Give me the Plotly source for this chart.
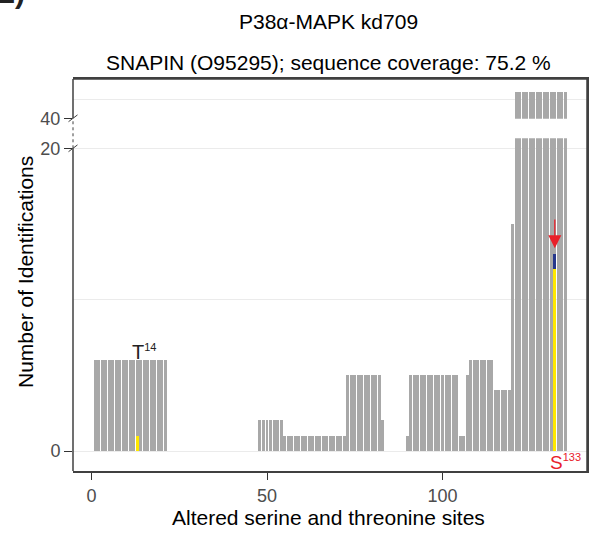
import plotly.graph_objects as go

# ---- data ----
# covered residue blocks (0-based position) and number of identifications
block_start = [1, 48, 55, 73, 83, 90, 91, 105, 107, 108, 115, 120, 121]
block_end = [21, 54, 72, 82, 83, 90, 104, 106, 107, 114, 119, 120, 135]
block_ids = [6, 2, 1, 5, 2, 1, 5, 1, 5, 6, 4, 15, 54]

# altered sites
site_labels = ["T14", "S133"]
site_pos = [13, 132]
site_localized = [1, 12]
site_ambiguous = [0, 1]
site_colors = ["#222222", "#E8202A"]
highlight_site = "S133"

x_ticks = [0, 50, 100]
y_ticks_low = [0, 20]
y_minor_low = [10]
y_ticks_high = [40]
y_minor_high = [50]

title = "P38α-MAPK kd709"
subtitle = "SNAPIN (O95295); sequence coverage: 75.2 %"
x_title = "Altered serine and threonine sites"
y_title = "Number of Identifications"
panel_tag = "E)"

# ---- styling ----
GRAY = "#A8A8A8"
YELLOW = "#FFE800"
BLUE = "#26378C"
RED = "#E8202A"
GRID = "#EBEBEB"
AXIS = "#404040"
TICKTXT = "#4D4D4D"
FONT = "Liberation Sans, Arial, sans-serif"
BW = 0.85

W, H = 589, 533
ML, MR, MT, MB = 73, 2, 79, 62
PW, PH = W - ML - MR, H - MT - MB

xrange = [-5.27, 141.17]
low_range = [-1.32, 20.66]
high_range = [39.79, 60.68]
low_dom = [0, (471 - 138.3) / PH]
high_dom = [(471 - 118.7) / PH, 1]


def py(v, rng, dom):
    return dom[0] + (v - rng[0]) / (rng[1] - rng[0]) * (dom[1] - dom[0])


def px_x(p):
    return (p - ML) / PW


def px_y(p):
    return (MT + PH - p) / PH


xs, ys = [], []
for s, e, c in zip(block_start, block_end, block_ids):
    for p in range(s, e + 1):
        xs.append(p)
        ys.append(c)

fig = go.Figure()
for ya in ["y", "y2"]:
    fig.add_trace(go.Bar(x=xs, y=ys, width=BW, marker=dict(color=GRAY, line=dict(width=0)),
                         xaxis="x", yaxis=ya, showlegend=False, hoverinfo="skip"))
fig.add_trace(go.Bar(x=site_pos, y=site_localized, width=BW,
                     marker=dict(color=YELLOW, line=dict(width=0)),
                     xaxis="x", yaxis="y", showlegend=False))
fig.add_trace(go.Bar(x=site_pos, y=site_ambiguous, base=site_localized, width=BW,
                     marker=dict(color=BLUE, line=dict(width=0)),
                     xaxis="x", yaxis="y", showlegend=False))
# empty trace that carries the full-panel frame axes
fig.add_trace(go.Scatter(x=[None], y=[None], xaxis="x3", yaxis="y3", mode="markers",
                         showlegend=False, hoverinfo="skip"))

annotations = []
# site labels
tot_per_pos = dict(zip(xs, ys))
for lab, pos, col, loc, amb in zip(site_labels, site_pos, site_colors, site_localized, site_ambiguous):
    txt = f"{lab[0]}<sup><span style='font-size:11px'>{lab[1:]}</span></sup>"
    if lab == highlight_site:
        annotations.append(dict(x=pos, y=0, xref="x", yref="y", text=txt, showarrow=False,
                                yanchor="top", xanchor="left", xshift=-7, yshift=2,
                                font=dict(family=FONT, size=19, color=col)))
        tip = loc + amb + 0.4
        annotations.append(dict(x=pos, y=tip, ax=pos, ay=tip + 2.0, xref="x", yref="y",
                                axref="x", ayref="y", text="", showarrow=True,
                                arrowhead=2, arrowsize=2.0, arrowwidth=1.3, arrowcolor=RED))
    else:
        annotations.append(dict(x=pos, y=tot_per_pos[pos], xref="x", yref="y", text=txt,
                                showarrow=False, yanchor="bottom", xanchor="left", xshift=-7,
                                yshift=-5, font=dict(family=FONT, size=20, color=col)))

annotations += [
    dict(x=px_x(328), y=px_y(22), xref="paper", yref="paper", text=title, showarrow=False,
         xanchor="center", yanchor="middle", font=dict(family=FONT, size=21, color="black")),
    dict(x=px_x(328), y=px_y(63), xref="paper", yref="paper", text=subtitle, showarrow=False,
         xanchor="center", yanchor="middle", font=dict(family=FONT, size=21, color="black")),
    dict(x=px_x(328), y=px_y(517), xref="paper", yref="paper", text=x_title, showarrow=False,
         xanchor="center", yanchor="middle", font=dict(family=FONT, size=21, color="black")),
    dict(x=px_x(25), y=px_y(272), xref="paper", yref="paper", text=y_title, showarrow=False,
         textangle=-90, xanchor="center", yanchor="middle", font=dict(family=FONT, size=21, color="black")),
    dict(x=px_x(-7), y=px_y(-8), xref="paper", yref="paper", text=f"<b>{panel_tag}</b>", showarrow=False,
         xanchor="left", yanchor="middle", font=dict(family=FONT, size=30, color="#222222")),
]

y20 = py(20, low_range, low_dom)
y40 = py(40, high_range, high_dom)
fr = dict(color=AXIS, width=1.5)
shapes = [
    dict(type="line", xref="paper", yref="paper", x0=0, x1=1, y0=1, y1=1, line=fr),
    dict(type="line", xref="paper", yref="paper", x0=1, x1=1, y0=0, y1=1, line=fr),
    dict(type="line", xref="paper", yref="paper", x0=0, x1=0, y0=0, y1=y20, line=fr),
    dict(type="line", xref="paper", yref="paper", x0=0, x1=0, y0=y40, y1=1, line=fr),
    dict(type="line", xref="paper", yref="paper", x0=0, x1=0, y0=y20, y1=y40,
         line=dict(color=AXIS, width=1, dash="dot")),
]
for yy in (y20, y40):
    shapes.append(dict(type="line", xref="paper", yref="paper",
                       x0=-4.5 / PW, x1=4.5 / PW, y0=yy - 3.4 / PH, y1=yy + 3.4 / PH,
                       line=dict(color=AXIS, width=1)))

tickfont = dict(family=FONT, size=18, color=TICKTXT)
frame_axis = dict(range=[0, 1], showgrid=False, zeroline=False, showticklabels=False, ticks="",
                  showline=True, linecolor=AXIS, linewidth=1.5, fixedrange=True)
fig.update_layout(
    width=W, height=H, margin=dict(l=ML, r=MR, t=MT, b=MB, autoexpand=False),
    paper_bgcolor="white", plot_bgcolor="rgba(0,0,0,0)", barmode="overlay", bargap=0,
    showlegend=False, font=dict(family=FONT),
    xaxis=dict(range=xrange, domain=[0, 1], anchor="y", tickvals=x_ticks, ticks="outside",
               ticklen=8, tickwidth=1, tickcolor="#333333", tickfont=tickfont,
               showgrid=False, zeroline=False, showline=False),
    yaxis=dict(range=low_range, domain=low_dom, anchor="x", tickvals=y_ticks_low,
               ticks="outside", ticklen=8, tickwidth=1, tickcolor="#333333", tickfont=tickfont,
               showgrid=True, gridcolor=GRID, gridwidth=1, zeroline=False, showline=False,
               minor=dict(tickvals=y_minor_low, showgrid=True, gridcolor=GRID, gridwidth=1, ticks="")),
    yaxis2=dict(range=high_range, domain=high_dom, anchor="x", tickvals=y_ticks_high,
                ticks="outside", ticklen=8, tickwidth=1, tickcolor="#333333", tickfont=tickfont,
                showgrid=True, gridcolor=GRID, gridwidth=1, zeroline=False, showline=False,
                minor=dict(tickvals=y_minor_high, showgrid=True, gridcolor=GRID, gridwidth=1, ticks="")),
    xaxis3=dict(frame_axis, domain=[0, 1], anchor="y3", mirror=True),
    yaxis3=dict(frame_axis, domain=[0, 1], anchor="x3", side="right", mirror=False),
    annotations=annotations,
    shapes=shapes,
)

fig.write_html("out.html", config={"displayModeBar": False},
               post_script="document.body.style.margin='0';document.body.style.padding='0';"
                           "document.documentElement.style.overflow='hidden';")
